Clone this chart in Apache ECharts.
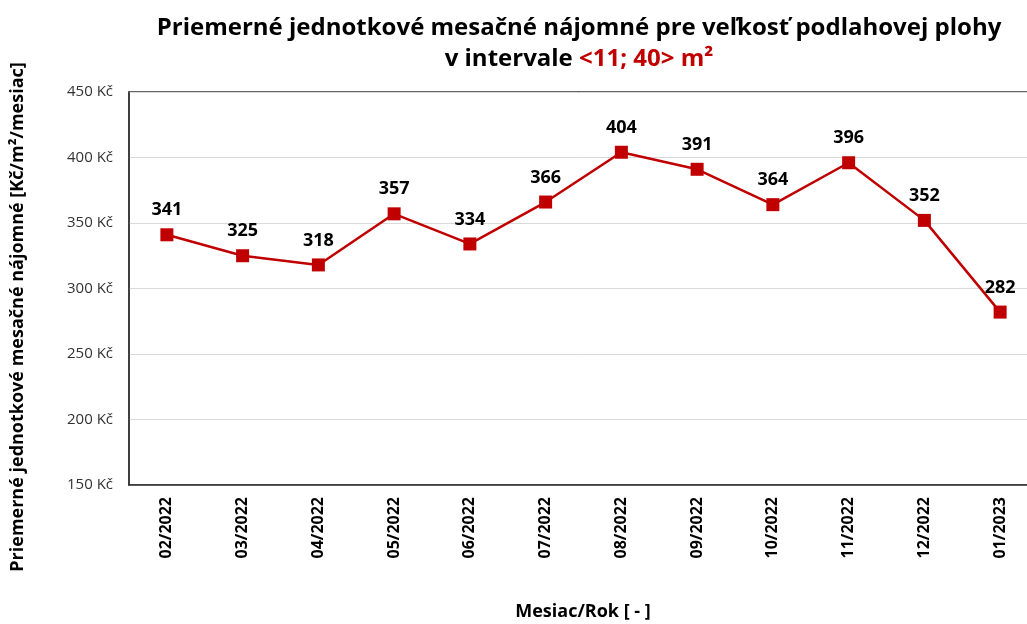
<!DOCTYPE html>
<html><head><meta charset="utf-8">
<script src="https://cdn.jsdelivr.net/npm/echarts@6/dist/echarts.min.js"></script>
<style>html,body{margin:0;padding:0;background:#fff}#c{width:1027px;height:624px}</style>
</head><body><div id="c"></div>
<script>
const categories = ["02/2022","03/2022","04/2022","05/2022","06/2022","07/2022","08/2022","09/2022","10/2022","11/2022","12/2022","01/2023"];
const rentValues = [341,325,318,357,334,366,404,391,364,396,352,282];
const yTicks = {min:150, max:450, interval:50};
const titleLine1 = "Priemerné jednotkové mesačné nájomné pre veľkosť podlahovej plohy";
const titleLine2a = "v intervale ";
const titleLine2b = "<11; 40> m²";
const yTitle = "Priemerné jednotkové mesačné nájomné [Kč/m²/mesiac]";
const xTitle = "Mesiac/Rok [ - ]";

const chart = echarts.init(document.getElementById('c'));
const F = "'Open Sans', sans-serif";
chart.setOption({
  animation:false,
  textStyle:{fontFamily:F},
  title:{
    text: titleLine1 + "\n{n|" + titleLine2a + "}{r|" + titleLine2b + "}",
    left: 574, top: 8, textAlign:'center',
    textStyle:{fontFamily:F, fontSize:24, fontWeight:'bold', color:'#000', lineHeight:31,
      rich:{n:{fontFamily:F,fontSize:24,fontWeight:'bold',color:'#000',lineHeight:31},
            r:{fontFamily:F,fontSize:24,fontWeight:'bold',color:'#c00000',lineHeight:31}}}
  },
  grid:{left:129, right:-11, top:92, bottom:139, outerBoundsMode:'none', containLabel:false, show:true, borderColor:'#333', borderWidth:1.5},
  xAxis:{
    type:'category', data:categories, boundaryGap:true,
    axisLine:{lineStyle:{color:'#333', width:1.5}},
    axisTick:{show:false},
    axisLabel:{rotate:90, fontFamily:F, fontSize:16, fontWeight:'bold', color:'#000', margin:12}
  },
  yAxis:{
    type:'value', min:yTicks.min, max:yTicks.max, interval:yTicks.interval,
    axisLine:{show:true, lineStyle:{color:'#333', width:1.5}},
    axisTick:{show:false},
    splitLine:{lineStyle:{color:'#d9d9d9', width:1}},
    axisLabel:{fontFamily:F, fontSize:15, color:'#333', margin:16, formatter: v => v + ' Kč'}
  },
  graphic:[
    {type:'text', rotation:Math.PI/2, x:18, y:317,
     style:{text:yTitle, fontFamily:F, fontSize:18, fontWeight:'bold', fill:'#000', textAlign:'center', textVerticalAlign:'middle'}},
    {type:'text', x:583, y:612, style:{text:xTitle, fontFamily:F, fontSize:18, fontWeight:'bold', fill:'#000', textAlign:'center', textVerticalAlign:'middle'}}
  ],
  series:[{
    type:'line', data:rentValues,
    symbol:'rect', symbolSize:13,
    itemStyle:{color:'#c00000'},
    lineStyle:{color:'#c00000', width:2.5},
    label:{show:true, position:'top', distance:9, fontFamily:F, fontSize:18, fontWeight:'bold', color:'#000'}
  }]
});
</script></body></html>
